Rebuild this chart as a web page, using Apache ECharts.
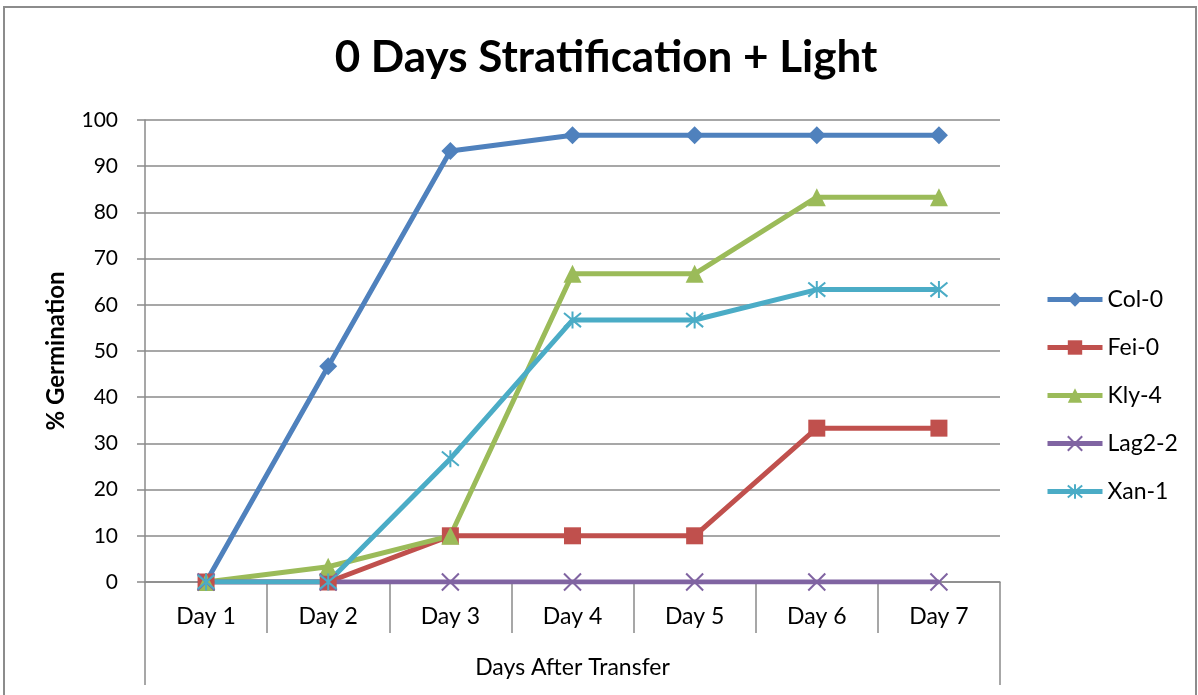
<!DOCTYPE html>
<html>
<head>
<meta charset="utf-8">
<title>0 Days Stratification + Light</title>
<script src="https://cdn.jsdelivr.net/npm/echarts@6/dist/echarts.min.js"></script>
<style>
  html, body { margin: 0; padding: 0; background: #fff; }
  #chart { width: 1198px; height: 695px; }
</style>
</head>
<body>
<div id="chart"></div>
<script>
// data
var days = ['Day 1', 'Day 2', 'Day 3', 'Day 4', 'Day 5', 'Day 6', 'Day 7'];
var col0 = [0, 46.7, 93.3, 96.7, 96.7, 96.7, 96.7];
var fei0 = [0, 0, 10, 10, 10, 33.3, 33.3];
var kly4 = [0, 3.3, 10, 66.7, 66.7, 83.3, 83.3];
var lag22 = [0, 0, 0, 0, 0, 0, 0];
var xan1 = [0, 0, 26.7, 56.7, 56.7, 63.3, 63.3];
var groupLabel = ['Days After Transfer'];

var FONT = 'Lato, "Open Sans", sans-serif';
var GRID_COLOR = '#8a8a8a';

var crossPath = 'path://M0,0L10,10M10,0L0,10';
var starPath = 'path://M0,0L10,10M10,0L0,10M5,-1L5,11';

function lineSeries(name, data, color, symbol, size, stroked) {
  return {
    name: name,
    type: 'line',
    data: data,
    symbol: symbol,
    symbolSize: size,
    lineStyle: { width: 5, color: color },
    itemStyle: {
      color: stroked ? 'rgba(0,0,0,0)' : color,
      borderColor: color,
      borderWidth: stroked ? 2 : 0
    },
    emphasis: { disabled: true },
    z: 3
  };
}

var chart = echarts.init(document.getElementById('chart'));
chart.setOption({
  animation: false,
  title: {
    text: '0 Days Stratification + Light',
    top: 31,
    left: 601,
    textAlign: 'center',
    textStyle: { fontFamily: FONT, fontSize: 44, fontWeight: 'bold', color: '#000' }
  },
  legend: {
    orient: 'vertical',
    left: 1040,
    top: 283,
    itemWidth: 55,
    itemHeight: 18,
    itemGap: 25,
    itemTextGap: 3,
    lineStyle: { width: 5 },
    textStyle: { fontFamily: FONT, fontSize: 23, lineHeight: 18, color: '#000' },
    data: ['Col-0', 'Fei-0', 'Kly-4', 'Lag2-2', 'Xan-1']
  },
  graphic: [{
    type: 'rect',
    shape: { x: 4, y: 7, width: 1192, height: 720 },
    style: { fill: 'none', stroke: '#8c8c8c', lineWidth: 2 },
    silent: true
  }],
  grid: { left: 145, right: 198, top: 120, bottom: 113 },
  xAxis: [{
    type: 'category',
    data: days,
    boundaryGap: true,
    axisLine: { lineStyle: { color: GRID_COLOR, width: 1.5 } },
    axisTick: { show: true, interval: 0, length: 51, lineStyle: { color: GRID_COLOR, width: 1.5 } },
    axisLabel: { fontFamily: FONT, fontSize: 23, color: '#000', margin: 23, interval: 0 }
  }, {
    type: 'category',
    data: groupLabel,
    position: 'bottom',
    boundaryGap: true,
    axisLine: { show: false },
    axisTick: { show: true, interval: 0, length: 103, lineStyle: { color: GRID_COLOR, width: 1.5 } },
    axisLabel: { fontFamily: FONT, fontSize: 23, color: '#000', margin: 74 }
  }],
  yAxis: {
    type: 'value',
    min: 0,
    max: 100,
    interval: 10,
    name: '% Germination',
    nameLocation: 'middle',
    nameRotate: 90,
    nameGap: 77,
    nameTextStyle: { fontFamily: FONT, fontSize: 24, fontWeight: 'bold', color: '#000' },
    axisLine: { show: true, lineStyle: { color: GRID_COLOR, width: 1.5 } },
    axisTick: { show: true, length: 8, lineStyle: { color: GRID_COLOR, width: 1.5 } },
    axisLabel: { fontFamily: FONT, fontSize: 21, color: '#000', margin: 27 },
    splitLine: { show: true, lineStyle: { color: GRID_COLOR, width: 1.5 } }
  },
  series: [
    lineSeries('Col-0', col0, '#4F81BD', 'diamond', 18, false),
    lineSeries('Fei-0', fei0, '#C0504D', 'rect', 17, false),
    lineSeries('Kly-4', kly4, '#9BBB59', 'triangle', 18, false),
    lineSeries('Lag2-2', lag22, '#8064A2', crossPath, 17, true),
    lineSeries('Xan-1', xan1, '#4BACC6', starPath, 17, true)
  ]
});
</script>
</body>
</html>
